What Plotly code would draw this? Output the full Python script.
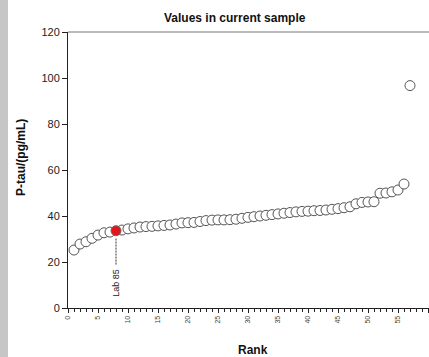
import plotly.graph_objects as go

# Ranked P-tau results, one value per participating lab
ranks = list(range(1, 58))
ptau = [25.2, 27.8, 28.8, 30.3, 31.7, 32.7, 33.0, 33.6, 33.9, 34.4,
        34.8, 35.2, 35.4, 35.5, 35.7, 35.9, 36.1, 36.5, 37.0, 37.1,
        37.2, 37.6, 38.0, 38.2, 38.3, 38.3, 38.4, 38.6, 39.0, 39.4,
        39.7, 40.0, 40.3, 40.6, 40.9, 41.2, 41.5, 41.8, 42.0, 42.1,
        42.3, 42.4, 42.6, 42.9, 43.2, 43.6, 44.0, 45.3, 45.9, 46.1,
        46.2, 49.9, 50.0, 50.5, 51.3, 53.9, 96.7]

own_lab = "Lab 85"
own_rank = 8

x_ticks = list(range(0, 61, 5))
y_ticks = list(range(0, 121, 20))

W, H = 429, 357
ML, MR, MT, MB = 68, 0, 32, 49
PW, PH = W - ML - MR, H - MT - MB


def px(xp):
    return (xp - ML) / PW


def py(yp):
    return (H - MB - yp) / PH


fig = go.Figure()

others = [i for i, r in enumerate(ranks) if r != own_rank]
fig.add_trace(go.Scatter(
    x=[ranks[i] for i in others], y=[ptau[i] for i in others],
    mode="markers",
    marker=dict(size=10, color="white", line=dict(color="#555555", width=1)),
    hoverinfo="x+y", showlegend=False,
))
own = ranks.index(own_rank)
fig.add_trace(go.Scatter(
    x=[ranks[own]], y=[ptau[own]],
    mode="markers",
    marker=dict(size=10, color="#e3141c", line=dict(color="#666666", width=1)),
    showlegend=False,
))

# dashed leader from the own-lab point to its label
fig.add_shape(type="line", xref="x", yref="y",
              x0=own_rank, x1=own_rank, y0=ptau[own] - 3.4, y1=18.5,
              line=dict(color="#333333", width=1, dash="2px,1px"))
fig.add_annotation(x=own_rank, y=11, xref="x", yref="y", text=own_lab,
                   textangle=-90, showarrow=False, xanchor="center", yanchor="middle",
                   font=dict(family="Liberation Sans, Arial", size=9, color="#222222"))

# grey strip along the left edge of the page
fig.add_shape(type="rect", xref="paper", yref="paper",
              x0=px(0), x1=px(8), y0=py(H), y1=py(0),
              fillcolor="#c6c6c6", line=dict(width=0), layer="below")

# top frame line
fig.add_shape(type="line", xref="paper", yref="paper",
              x0=0, x1=1, y0=1, y1=1, line=dict(color="#777777", width=1))

label_font = dict(family="Liberation Sans, Arial", size=12, color="#111111")
fig.add_annotation(xref="paper", yref="paper", x=px(235), y=py(18),
                   xanchor="center", yanchor="middle",
                   text="<b>Values in current sample</b>", showarrow=False, font=label_font)
fig.add_annotation(xref="paper", yref="paper", x=px(253), y=py(350),
                   xanchor="center", yanchor="middle",
                   text="<b>Rank</b>", showarrow=False, font=label_font)
fig.add_annotation(xref="paper", yref="paper", x=px(21), y=py(158),
                   xanchor="center", yanchor="middle",
                   text="<b>P-tau/(pg/mL)</b>", showarrow=False, textangle=-90, font=label_font)

fig.update_layout(
    width=W, height=H,
    margin=dict(l=ML, r=MR, t=MT, b=MB),
    paper_bgcolor="white", plot_bgcolor="white",
    font=dict(family="Liberation Sans, Arial", color="#222222"),
    xaxis=dict(range=[0, PW / 6.0], tickvals=x_ticks, ticktext=[str(v) for v in x_ticks],
               tickangle=-90, tickfont=dict(size=7, color="#444444"),
               ticks="outside", ticklen=4, tickcolor="#222222",
               minor=dict(dtick=1, ticks="outside", ticklen=3, tickcolor="#222222"),
               showline=True, linecolor="#222222", linewidth=1,
               showgrid=False, zeroline=False),
    yaxis=dict(range=[0, 120], tickvals=y_ticks, tickfont=dict(size=11, color="#222222"),
               ticks="outside", ticklen=5, tickcolor="#222222",
               showline=True, linecolor="#222222", linewidth=1,
               showgrid=False, zeroline=False),
)

fig.write_html("out.html")
